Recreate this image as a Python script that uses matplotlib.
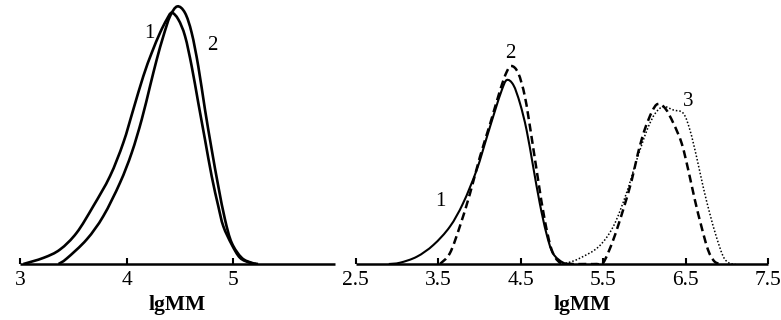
import matplotlib.pyplot as plt
from matplotlib.path import Path
from matplotlib.patches import PathPatch

plt.rcParams['font.family'] = ['Liberation Serif', 'DejaVu Serif']

# left panel: two MMD curves (lgMM, relative intensity)
left_x1 = [3.03, 3.22, 3.374, 3.53, 3.686, 3.843, 3.968, 4.062, 4.156, 4.235, 4.313, 4.376,
           4.423, 4.485, 4.548, 4.61, 4.672, 4.735, 4.798, 4.86, 4.907, 4.986, 5.064, 5.158, 5.214]
left_y1 = [0, 6.2, 14.5, 31.2, 57.8, 87.8, 121.2, 154.5, 187.8, 211.2, 231.2, 244.5,
           251.2, 244.5, 227.8, 197.8, 161.2, 124.5, 87.8, 57.8, 37.8, 19.5, 6.2, 1.2, 0]
left_x2 = [3.36, 3.437, 3.624, 3.78, 3.937, 4.047, 4.141, 4.219, 4.282, 4.344, 4.407, 4.475,
           4.547, 4.61, 4.672, 4.735, 4.798, 4.86, 4.923, 4.986, 5.08, 5.174, 5.233]
left_y2 = [0, 5.5, 24.5, 47.8, 81.2, 111.2, 144.5, 177.8, 204.5, 227.8, 247.8, 257.6,
           251.2, 231.2, 197.8, 154.5, 114.5, 77.8, 44.5, 21.2, 6.2, 1.2, 0]

# right panel: curves 1 (solid), 2 (dashed), 3 (dotted)
right_x1 = [2.9, 3.036, 3.24, 3.44, 3.64, 3.80, 3.965, 4.09, 4.19, 4.27, 4.33, 4.41, 4.49,
            4.57, 4.65, 4.73, 4.81, 4.89, 5.015, 5.13]
right_y1 = [0, 1.3, 7.3, 19, 37.3, 60.7, 94, 127.3, 154, 174, 184, 179, 160.7,
            134, 97.3, 60.7, 30.7, 10.7, 1.3, 0]
right_x2 = [3.52, 3.64, 3.76, 3.885, 4.005, 4.13, 4.25, 4.33, 4.39, 4.47, 4.55, 4.63, 4.71,
            4.79, 4.875, 4.975, 5.1, 5.3, 5.42, 5.50, 5.62, 5.74, 5.845, 5.92, 6.00, 6.09,
            6.16, 6.25, 6.35, 6.45, 6.53, 6.61, 6.69, 6.77, 6.85, 6.94]
right_y2 = [0, 10.7, 37.3, 70.7, 107.3, 140.7, 174, 192.3, 198, 190.7, 167.3, 127.3, 84,
            44, 14, 1.3, 0, 0, 0, 1.3, 24, 54, 84, 110.7, 134, 152.3,
            160, 155.7, 140.7, 120.7, 94, 64, 37.3, 14, 2.3, 0]
right_x3 = [5.0, 5.1, 5.22, 5.44, 5.62, 5.78, 5.905, 6.03, 6.13, 6.23, 6.35, 6.47, 6.55,
            6.63, 6.71, 6.79, 6.87, 6.955, 7.03, 7.10]
right_y3 = [0, 2, 6, 17, 37.3, 70.7, 104, 134, 150.7, 157.3, 154, 150.7, 134,
            107.3, 77.3, 50.7, 27.3, 7.3, 0.7, 0]


def smooth_curve(ax, xs, ys, **kw):
    # draw a smooth (Catmull-Rom as Bezier) path through the points
    pts = list(zip(xs, ys))
    n = len(pts)
    verts = [pts[0]]
    codes = [Path.MOVETO]
    for i in range(n - 1):
        p0 = pts[max(i - 1, 0)]
        p1 = pts[i]
        p2 = pts[i + 1]
        p3 = pts[min(i + 2, n - 1)]
        c1 = (p1[0] + (p2[0] - p0[0]) / 6, p1[1] + (p2[1] - p0[1]) / 6)
        c2 = (p2[0] - (p3[0] - p1[0]) / 6, p2[1] - (p3[1] - p1[1]) / 6)
        verts += [c1, c2, p2]
        codes += [Path.CURVE4] * 3
    ax.add_patch(PathPatch(Path(verts, codes), fill=False, edgecolor='black', **kw))


W, H = 781, 320
fig = plt.figure(figsize=(7.81, 3.2), dpi=100)
ax1 = fig.add_axes([20.2 / W, 56 / H, (335 - 20.2) / W, 264 / H])
ax2 = fig.add_axes([355.8 / W, 56 / H, (768.3 - 355.8) / W, 264 / H])

smooth_curve(ax1, left_x1, left_y1, lw=1.9)
smooth_curve(ax1, left_x2, left_y2, lw=1.9)
ax1.text(4.21, 231, '1', fontsize=15, ha='center', va='center')
ax1.text(4.80, 218, '2', fontsize=15, ha='center', va='center')
ax1.set_xlim(3, 3 + (335 - 20.2) / 106.5)
ax1.set_xticks([3, 4, 5])

smooth_curve(ax2, right_x1, right_y1, lw=1.5)
smooth_curve(ax2, right_x2, right_y2, lw=1.8, linestyle=(0, (3.2, 1.8)))
smooth_curve(ax2, right_x3, right_y3, lw=1.1, linestyle=(0, (1, 1.3)))
ax2.text(3.52, 62, '1', fontsize=15, ha='center', va='center')
ax2.text(4.37, 211, '2', fontsize=15, ha='center', va='center')
ax2.text(6.53, 162, '3', fontsize=15, ha='center', va='center')
ax2.set_xlim(2.5, 7.5)
ax2.set_xticks([2.5, 3.5, 4.5, 5.5, 6.5, 7.5])
ax2.set_xticklabels(['2.5', '3.5', '4.5', '5.5', '6.5', '7.5'])

for ax in (ax1, ax2):
    ax.set_ylim(0, 264)
    ax.set_yticks([])
    for s in ('top', 'right', 'left'):
        ax.spines[s].set_visible(False)
    ax.spines['bottom'].set_linewidth(1.8)
    ax.spines['bottom'].set_capstyle('butt')
    ax.tick_params(axis='x', direction='in', length=4, width=1.5, labelsize=15.5, pad=5)
    ax.set_xlabel('lgMM', fontsize=15.5, fontweight='bold')

ax1.xaxis.set_label_coords(0.5, -0.118)
ax2.xaxis.set_label_coords((582 - 355.8) / 412.5, -0.118)

fig.savefig('out.png', dpi=100)
